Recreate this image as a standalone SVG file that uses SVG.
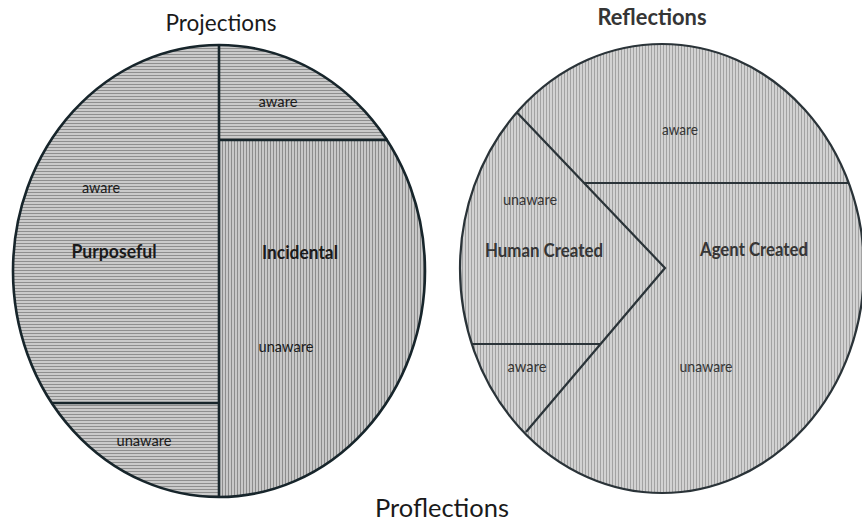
<svg xmlns="http://www.w3.org/2000/svg" width="862" height="526" viewBox="0 0 862 526">
<style>
text{font-family:Lato,"Open Sans","Liberation Sans",sans-serif;text-anchor:middle;fill:#1a1a1a}
.title{font-size:24px}
.lbl{font-size:15px}
.big{font-size:18.5px;font-weight:bold}
.r text{fill:#353535}
.edge{fill:none;stroke:#17252b;stroke-width:2.6}
.redge{fill:none;stroke:#2a3338;stroke-width:2.2}
</style>
<defs>
<pattern id="hz" width="4" height="3" patternUnits="userSpaceOnUse"><rect width="4" height="3" fill="#cacaca"/><rect width="4" height="1" fill="#8e8e8e"/></pattern>
<pattern id="vl" width="3" height="4" patternUnits="userSpaceOnUse"><rect width="3" height="4" fill="#c8c8c8"/><rect width="1" height="4" fill="#8c8c8c"/></pattern>
<pattern id="vt" width="3" height="4" patternUnits="userSpaceOnUse"><rect width="3" height="4" fill="#d2d2d2"/><rect width="1" height="4" fill="#a2a2a2"/></pattern>
<clipPath id="lc"><ellipse cx="219" cy="271" rx="206" ry="226"/></clipPath>
</defs>

<g id="projections">
<ellipse cx="219" cy="271" rx="206" ry="226" fill="url(#hz)"/>
<rect x="219" y="140" width="210" height="360" fill="url(#vl)" clip-path="url(#lc)"/>
<ellipse class="edge" cx="219" cy="271" rx="206" ry="226"/>
<text class="title" x="221" y="31" textLength="111" lengthAdjust="spacingAndGlyphs">Projections</text>
</g>

<g id="left-dividers">
<line class="edge" x1="219" y1="45" x2="219" y2="497"/>
<line class="edge" x1="219" y1="140" x2="388" y2="140"/>
<line class="edge" x1="52" y1="403" x2="219" y2="403"/>
</g>

<g id="left-labels">
<text class="lbl" x="278" y="107" textLength="39" lengthAdjust="spacingAndGlyphs">aware</text>
<text class="lbl" x="101" y="193" textLength="38" lengthAdjust="spacingAndGlyphs">aware</text>
<text class="big" x="114" y="258" textLength="85" lengthAdjust="spacingAndGlyphs">Purposeful</text>
<text class="big" x="300" y="259" textLength="76" lengthAdjust="spacingAndGlyphs">Incidental</text>
<text class="lbl" x="286" y="352" textLength="55" lengthAdjust="spacingAndGlyphs">unaware</text>
<text class="lbl" x="144" y="446" textLength="55" lengthAdjust="spacingAndGlyphs">unaware</text>
</g>

<g id="reflections" class="r">
<ellipse cx="662" cy="268.5" rx="202" ry="224.5" fill="url(#vt)"/>
<ellipse class="redge" cx="662" cy="268.5" rx="202" ry="224.5"/>
<text class="title" x="652" y="25" textLength="109" lengthAdjust="spacingAndGlyphs" style="font-size:22px;font-weight:bold">Reflections</text>
</g>

<g id="right-dividers">
<polyline class="redge" points="517,112.5 665,268 526,432"/>
<line class="redge" x1="584" y1="183" x2="849" y2="183"/>
<line class="redge" x1="472" y1="344" x2="601" y2="344"/>
</g>

<g id="right-labels" class="r">
<text class="lbl" x="680" y="135" textLength="36" lengthAdjust="spacingAndGlyphs">aware</text>
<text class="lbl" x="530" y="205" textLength="54" lengthAdjust="spacingAndGlyphs">unaware</text>
<text class="big" x="544" y="257" textLength="118" lengthAdjust="spacingAndGlyphs">Human Created</text>
<text class="big" x="754" y="256" textLength="108" lengthAdjust="spacingAndGlyphs">Agent Created</text>
<text class="lbl" x="527" y="372" textLength="39" lengthAdjust="spacingAndGlyphs">aware</text>
<text class="lbl" x="706" y="372" textLength="53" lengthAdjust="spacingAndGlyphs">unaware</text>
</g>

<g id="proflections">
<text class="title" x="442" y="517" textLength="134" lengthAdjust="spacingAndGlyphs" style="font-size:25px">Proflections</text>
</g>
</svg>
